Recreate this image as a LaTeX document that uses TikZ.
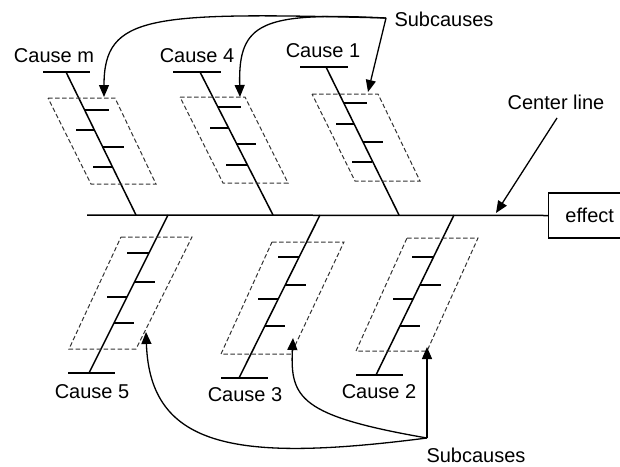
\documentclass[tikz,border=0pt]{standalone}
\usepackage{fontspec}
\setmainfont{Liberation Sans}
\usetikzlibrary{arrows.meta,calc}
\begin{document}
\begin{tikzpicture}[x=1pt,y=-1pt,
  bone/.style={line width=1.5pt},
  tickline/.style={line width=1.8pt},
  zone/.style={dash pattern=on 4.5pt off 2.5pt, line width=1pt, draw=black!80},
  pointer/.style={line width=1.3pt, -{Triangle[length=12pt,width=10pt]}},
  lbl/.style={font=\fontsize{20}{23}\selectfont, inner sep=0pt}]
\useasboundingbox (0,0) rectangle (620,466);

% spine and effect
\node[draw, line width=1.3pt, minimum width=82pt, minimum height=45pt, anchor=west, lbl]
  (effect) at (548,215.5) {effect};
\coordinate (tail) at (87,215);
\draw[bone] (tail) -- (effect.west);

% ---------- upper causes ----------
% Cause m
\coordinate (mH) at (66,72);  \coordinate (mF) at (136,215);
\draw[bone] (mH) -- (mF);
\draw[tickline] (43,72) -- (90,72);
\draw[zone] (48,98) -- (115,98) -- (156,184) -- (91,184) -- cycle;
\draw[tickline] (85,110) -- +(24,0);
\draw[tickline] (94,130) -- +(-18,0);
\draw[tickline] (102,147) -- +(22,0);
\draw[tickline] (112,167) -- +(-19,0);
\node[lbl] (cm) at (54,56) {Cause m};

% Cause 4
\coordinate (c4H) at (200,72);  \coordinate (c4F) at (273,215);
\draw[bone] (c4H) -- (c4F);
\draw[tickline] (173,72) -- (221,72);
\draw[zone] (180,97) -- (245,97) -- (288,183) -- (223,183) -- cycle;
\draw[tickline] (218,107) -- +(23,0);
\draw[tickline] (228,128) -- +(-18,0);
\draw[tickline] (236,144) -- +(20,0);
\draw[tickline] (247,165) -- +(-21,0);
\node[lbl] (c4) at (197,56) {Cause 4};

% Cause 1
\coordinate (c1H) at (326,67);  \coordinate (c1F) at (399,215);
\draw[bone] (c1H) -- (c1F);
\draw[tickline] (300,67) -- (348,67);
\draw[zone] (312,94) -- (378,94) -- (420,181) -- (355,181) -- cycle;
\draw[tickline] (344,103) -- +(23,0);
\draw[tickline] (354,124) -- +(-18,0);
\draw[tickline] (363,142) -- +(20,0);
\draw[tickline] (372,162) -- +(-20,0);
\node[lbl] (c1) at (323,51) {Cause 1};

% ---------- lower causes ----------
% Cause 5
\coordinate (c5F) at (168,215);  \coordinate (c5H) at (89,373);
\draw[bone] (c5F) -- (c5H);
\draw[tickline] (68,373) -- (115,373);
\draw[zone] (121,237) -- (192,237) -- (136,349) -- (69,349) -- cycle;
\draw[tickline] (149,253) -- +(-22,0);
\draw[tickline] (134,282) -- +(21,0);
\draw[tickline] (127,297) -- +(-20,0);
\draw[tickline] (114,323) -- +(20,0);
\node[lbl] (c5) at (92,392) {Cause 5};

% Cause 3
\coordinate (c3F) at (320,215);  \coordinate (c3H) at (239,378);
\draw[bone] (c3F) -- (c3H);
\draw[tickline] (221,378) -- (268,378);
\draw[zone] (272,242) -- (344,242) -- (291,354) -- (221,354) -- cycle;
\draw[tickline] (299,257) -- +(-21,0);
\draw[tickline] (285,285) -- +(21,0);
\draw[tickline] (278,299) -- +(-20,0);
\draw[tickline] (265,326) -- +(20,0);
\node[lbl] (c3) at (245,395) {Cause 3};

% Cause 2
\coordinate (c2F) at (454,215);  \coordinate (c2H) at (376,375);
\draw[bone] (c2F) -- (c2H);
\draw[tickline] (356,375) -- (403,375);
\draw[zone] (407,238) -- (478,238) -- (427,351) -- (356,351) -- cycle;
\draw[tickline] (434,257) -- +(-22,0);
\draw[tickline] (420,285) -- +(21,0);
\draw[tickline] (413,299) -- +(-20,0);
\draw[tickline] (400,326) -- +(20,0);
\node[lbl] (c2) at (379,392) {Cause 2};

% ---------- annotations ----------
\node[lbl] (subtop) at (444,19) {Subcauses};
\coordinate (topjoin) at (386,18);
\coordinate (zm) at (104,97);
\coordinate (z4) at (240,97);
\coordinate (z1) at (368,92);
\draw[pointer] (topjoin) .. controls (150,12) and (104,14) .. (zm);
\draw[pointer] (topjoin) .. controls (262,12) and (238,22) .. (z4);
\draw[pointer] (topjoin) -- (z1);

\node[lbl] (center) at (556,102) {Center line};
\coordinate (cstart) at (557,118);
\coordinate (cend) at (496,213);
\draw[pointer] (cstart) -- (cend);

\node[lbl] (subbot) at (476,455) {Subcauses};
\coordinate (botjoin) at (427,438);
\coordinate (z2) at (427,347);
\coordinate (z3) at (293,338);
\coordinate (z5) at (146,332);
\draw[pointer] (botjoin) -- (z2);
\draw[pointer] (botjoin) .. controls (300,416) and (290,398) .. (z3);
\draw[pointer] (botjoin) .. controls (240,462) and (150,450) .. (z5);
\end{tikzpicture}
\end{document}
